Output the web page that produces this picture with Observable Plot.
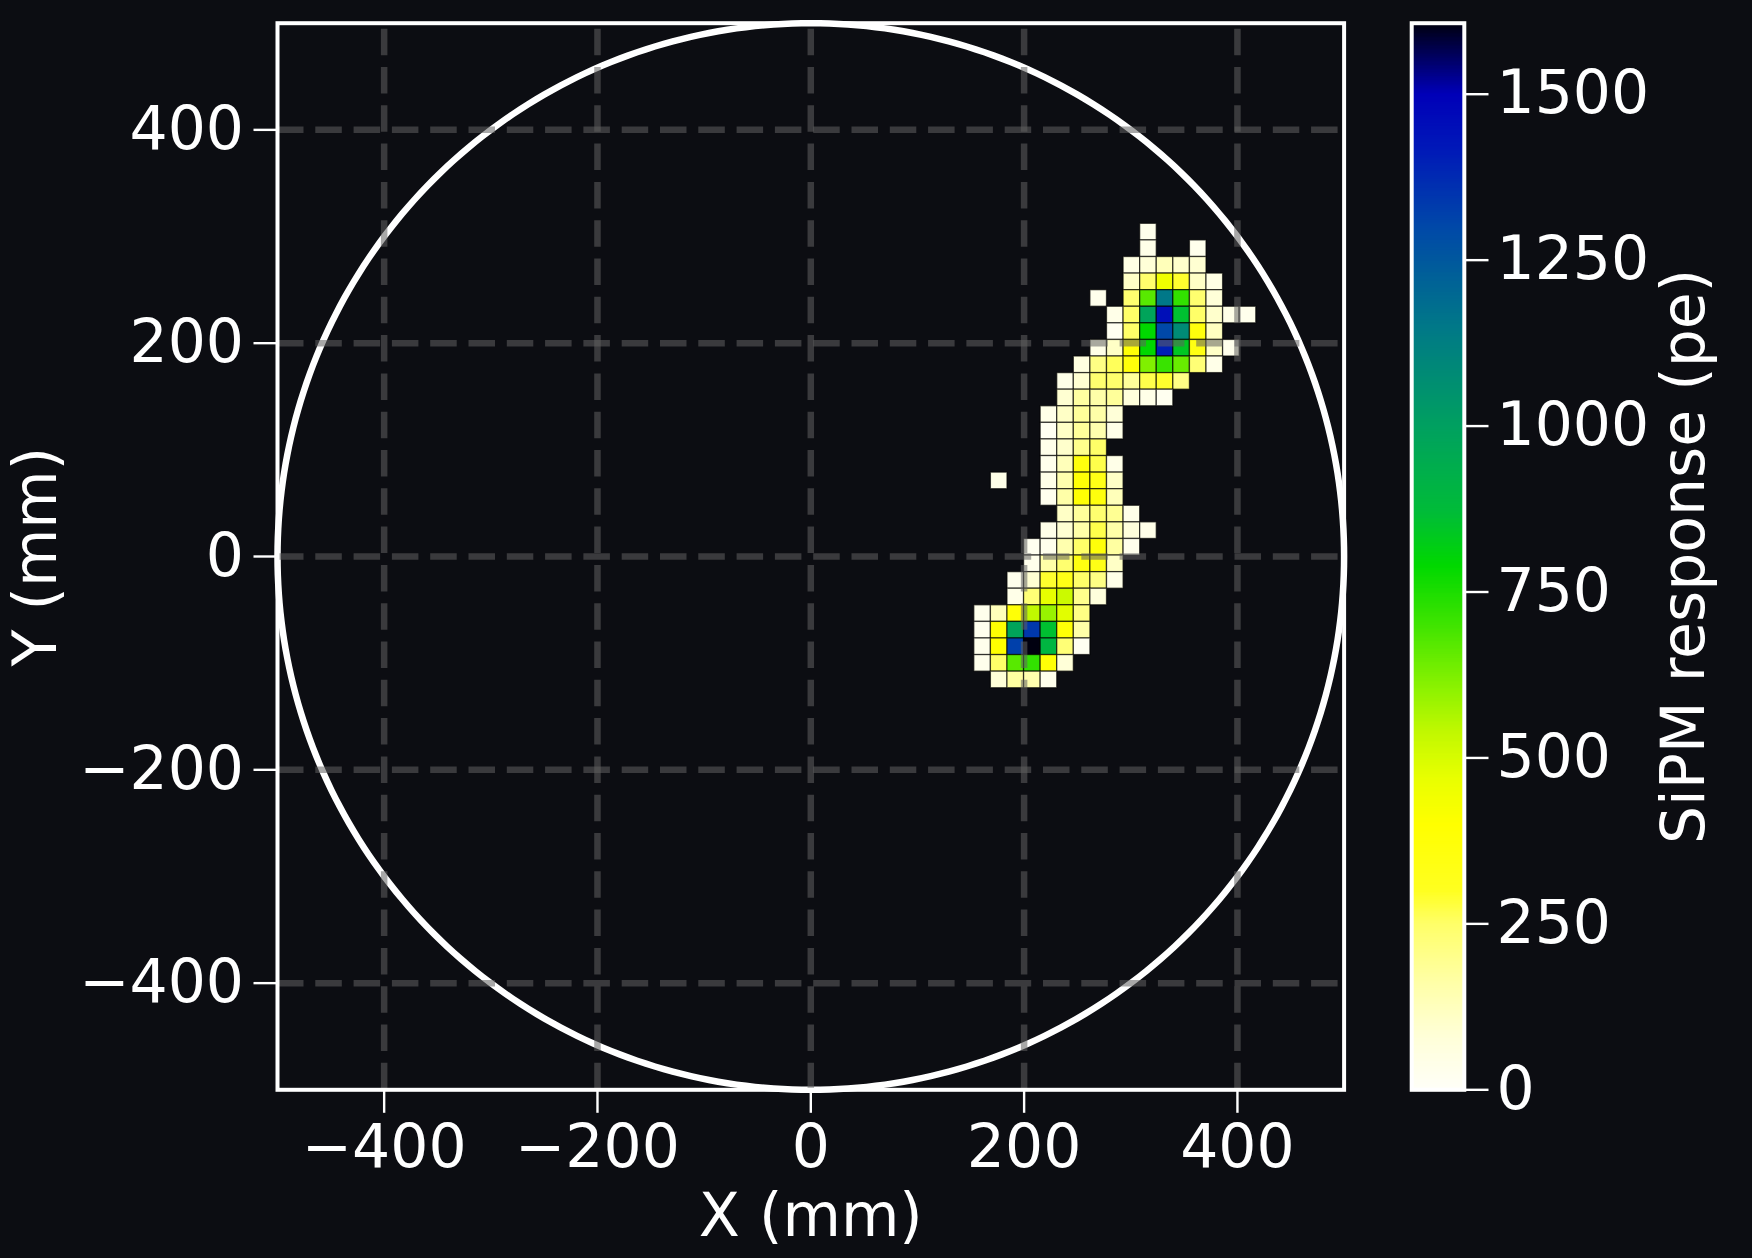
<!DOCTYPE html>
<html><head><meta charset="utf-8">
<script src="https://cdn.jsdelivr.net/npm/d3@7"></script>
<script src="https://cdn.jsdelivr.net/npm/@observablehq/plot@0.6"></script>
<style>
html,body{margin:0;padding:0;background:#0c0d12;}
#wrap{position:relative;width:1752px;height:1258px;overflow:hidden;background:#0c0d12;}
#main{position:absolute;left:0;top:0;}
#cbar{position:absolute;left:1400px;top:0;}
</style></head><body><div id="wrap"><div id="main"></div><div id="cbar"></div></div>
<script>
// ---- data ----
const PITCH = 15.55;          // SiPM pitch (mm)
const X_OFFSET = -2.2;        // grid offset (mm)
const Y_OFFSET = 0.9;
const R_DETECTOR = 500;       // detector radius (mm)
const AXIS_LIMITS = [-500, 500];
const X_TICKS = [-400, -200, 0, 200, 400];
const Y_TICKS = [-400, -200, 0, 200, 400];
const CBAR_TICKS = [0, 250, 500, 750, 1000, 1250, 1500];
const CBAR_MAX = 1607;
const X_LABEL = "X (mm)";
const Y_LABEL = "Y (mm)";
const CBAR_LABEL = "SiPM response (pe)";

// SiPM grid rows: row index j, first column index i, charge values (pe)
const ROW_J = [19,18,17,16,15,14,13,12,11,10,9,8,7,6,5,4,3,2,1,0,-1,-2,-3,-4,-5,-6,-7,-8];
const ROW_START = [20,20,19,19,17,18,18,17,16,15,15,14,14,14,14,11,14,15,14,13,13,12,12,10,10,10,10,11];
const ROW_VALUES = [
  [30],
  [40, null, null, 30],
  [50, 80, 130, 100, 90],
  [110, 245, 450, 290, 110, 50],
  [30, null, 240, 670, 1150, 720, 240, 80],
  [40, 250, 980, 1450, 860, 250, 100, 40, 30],
  [20, 250, 790, 1300, 1080, 360, 120],
  [40, 110, 380, 790, 1400, 840, 340, 110, 30],
  [60, 210, 260, 370, 620, 710, 650, 230, 40],
  [40, 90, 240, 245, 180, 270, 290, 210],
  [90, 170, 160, 180, 70, 40, 20],
  [40, 110, 180, 160, 80],
  [15, 110, 180, 150, 40],
  [35, 100, 200, 250],
  [30, 130, 360, 270, 40],
  [40, null, null, 40, 150, 380, 330, 110],
  [25, 160, 390, 360, 130],
  [110, 180, 240, 190, 40],
  [40, 90, 160, 270, 160, 70, 40],
  [20, 30, 150, 250, 370, 170, 30],
  [30, 160, 240, 350, 330, 110],
  [30, 90, 290, 330, 250, 210, 40],
  [40, 230, 470, 520, 200, 70],
  [30, 130, 380, 540, 590, 480, 210],
  [25, 390, 980, 1340, 860, 380, 160],
  [30, 400, 1320, 1607, 900, 230, 15],
  [30, 250, 670, 720, 380, 80],
  [80, 170, 150, 30]
];

// colormap stops
const COLOR_STOPS = [0, 80, 160, 250, 300, 400, 470, 540, 620, 700, 790, 870, 1000, 1150, 1300, 1420, 1500, 1607];
const COLOR_RANGE = ["#fffff8","#ffffd8","#ffffa8","#ffff68","#ffff20","#ffff00","#e8ff00","#c0f800","#80f000","#40e400","#00d800","#00bc38","#00a060","#007888","#0048a8","#0018b8","#0000b8","#000010"];

// ---- build ----
const BG = "#0c0d12";
const FONT = "DejaVu Sans, sans-serif";
const cells = [];
ROW_J.forEach((j, r) => ROW_VALUES[r].forEach((v, k) => {
  if (v != null) cells.push({i: ROW_START[r] + k, j, v});
}));
const circle = d3.range(0, 361, 1).map(a => ({
  x: R_DETECTOR * Math.cos(a * Math.PI / 180),
  y: R_DETECTOR * Math.sin(a * Math.PI / 180)
}));
const colorScale = {type: "linear", domain: COLOR_STOPS, range: COLOR_RANGE, interpolate: "rgb", clamp: true};
const fmt = d3.format("d");
const gridStyle = {stroke: "#606060", strokeOpacity: 0.55, strokeWidth: 6.5, strokeDasharray: "26.5,11.8"};

const main = Plot.plot({
  width: 1400, height: 1258,
  marginLeft: 277, marginRight: 1400 - 1343.6, marginTop: 22.7, marginBottom: 1258 - 1089.3,
  style: {background: BG, fontFamily: FONT, color: "white", overflow: "visible"},
  x: {domain: AXIS_LIMITS},
  y: {domain: AXIS_LIMITS},
  color: colorScale,
  marks: [
    Plot.rect(cells, {
      x1: d => d.i * PITCH + X_OFFSET, x2: d => (d.i + 1) * PITCH + X_OFFSET,
      y1: d => d.j * PITCH + Y_OFFSET, y2: d => (d.j + 1) * PITCH + Y_OFFSET,
      fill: "v", stroke: "black", strokeOpacity: 0.65, strokeWidth: 1.3
    }),
    Plot.line(circle, {x: "x", y: "y", stroke: "white", strokeWidth: 6.5}),
    Plot.ruleX(X_TICKS, {y1: AXIS_LIMITS[0], y2: AXIS_LIMITS[1], ...gridStyle}),
    Plot.ruleY(Y_TICKS, {...gridStyle}),
    Plot.frame({stroke: "white", strokeWidth: 4}),
    Plot.axisX({ticks: X_TICKS, tickFormat: fmt, tickSize: 23.5, tickPadding: 11.3, color: "white", strokeWidth: 2.4, fontSize: 60, label: null}),
    Plot.axisY({ticks: Y_TICKS, tickFormat: fmt, tickSize: 23.5, tickPadding: 10, color: "white", strokeWidth: 2.4, fontSize: 60, label: null}),
    Plot.text([X_LABEL], {frameAnchor: "bottom", dy: 145.7, lineAnchor: "bottom", textAnchor: "middle", fill: "white", fontSize: 60, text: d => d}),
    Plot.text([Y_LABEL], {frameAnchor: "left", dx: -263.7, rotate: -90, lineAnchor: "top", textAnchor: "middle", fill: "white", fontSize: 60, text: d => d})
  ]
});
document.getElementById("main").appendChild(main);

const STEP = 2;
const cbarSteps = d3.range(0, CBAR_MAX, STEP);
const cbar = Plot.plot({
  width: 352, height: 1258,
  marginLeft: 11.2, marginRight: 352 - 63.8, marginTop: 22.7, marginBottom: 1258 - 1089.3,
  style: {background: BG, fontFamily: FONT, color: "white", overflow: "visible"},
  y: {domain: [0, CBAR_MAX]},
  color: colorScale,
  marks: [
    Plot.rect(cbarSteps, {y1: d => d, y2: d => Math.min(d + STEP, CBAR_MAX), fill: d => d + STEP / 2, stroke: d => d + STEP / 2, strokeWidth: 0.8, shapeRendering: "crispEdges"}),
    Plot.frame({stroke: "white", strokeWidth: 4}),
    Plot.axisY({anchor: "right", ticks: CBAR_TICKS, tickFormat: fmt, tickSize: 23.7, tickPadding: 8.5, color: "white", strokeWidth: 2.4, fontSize: 60, label: null}),
    Plot.text([CBAR_LABEL], {frameAnchor: "right", dx: 197, rotate: -90, lineAnchor: "top", textAnchor: "middle", fill: "white", fontSize: 60, text: d => d})
  ]
});
document.getElementById("cbar").appendChild(cbar);
</script></body></html>
